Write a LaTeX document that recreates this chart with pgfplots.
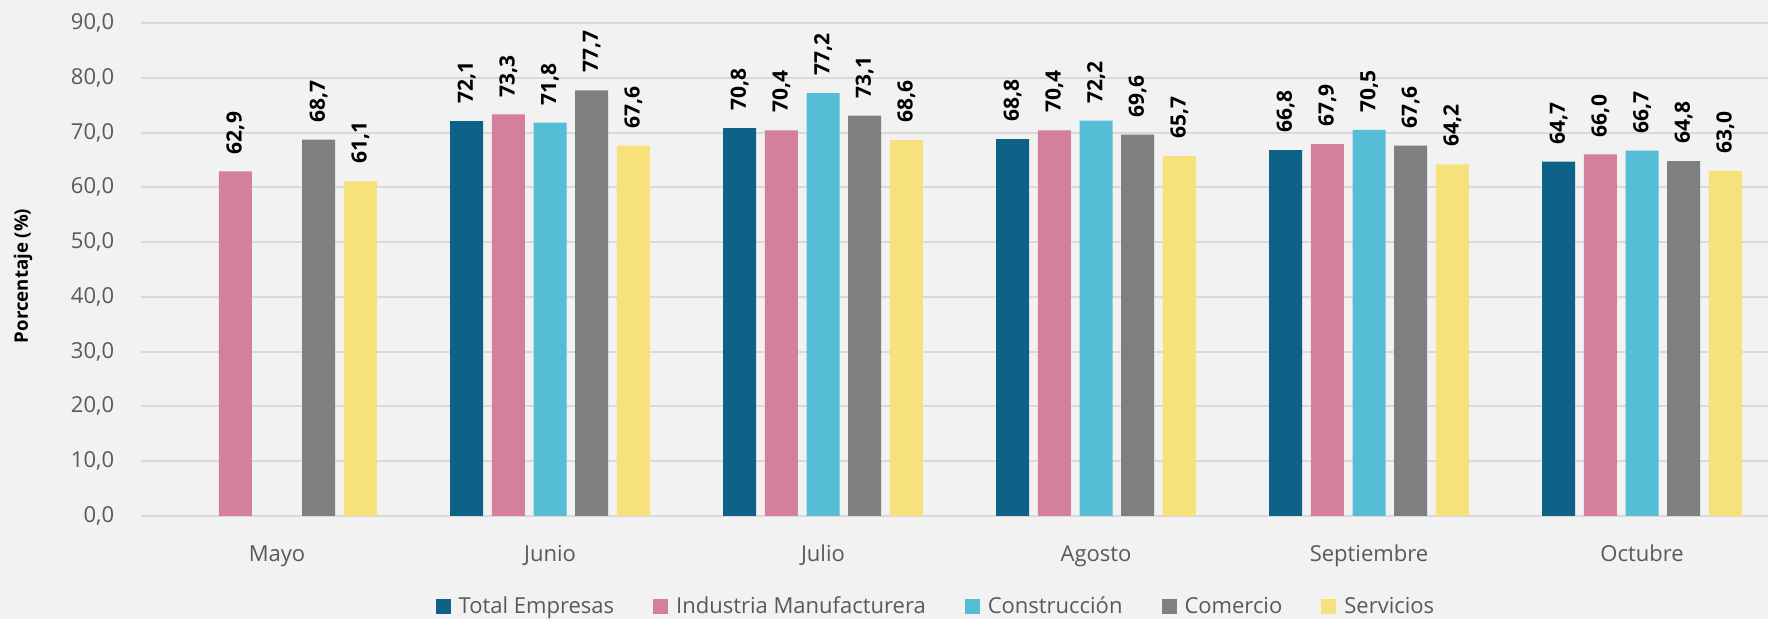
\documentclass[border=0pt]{standalone}
\usepackage{fontspec}
\setmainfont{Open Sans}
\usepackage{pgfplots}
\pgfplotsset{compat=1.18}
\definecolor{bg}{HTML}{F2F2F2}
\definecolor{gridc}{HTML}{D9D9D9}
\definecolor{tickc}{HTML}{595959}
\definecolor{cTot}{HTML}{0E6287}
\definecolor{cInd}{HTML}{D4809A}
\definecolor{cCon}{HTML}{55BED6}
\definecolor{cCom}{HTML}{7F7F7F}
\definecolor{cSer}{HTML}{F7E17A}
\pgfplotsset{
  mybar/.style={fill=#1, draw=none,
    legend image code/.code={\fill[fill=#1] (0pt,-3.75pt) rectangle (7.5pt,3.75pt);}},
}
\begin{document}
\begin{tikzpicture}
\path[use as bounding box, fill=bg] (0,0) rectangle (884pt,309.5pt);
\begin{axis}[
  at={(70.25pt,51.5pt)}, anchor=south west,
  scale only axis, width=813.75pt, height=246.5pt,
  xmin=-0.5, xmax=5.4615, ymin=0, ymax=90,
  clip=false,
  ybar=4.35pt, bar width=16.5pt,
  xtick={0,1,2,3,4,5},
  xticklabels={Mayo,Junio,Julio,Agosto,Septiembre,Octubre},
  ytick={0,10,...,90},
  yticklabel={\pgfmathprintnumber[fixed,fixed zerofill,precision=1,use comma,assume math mode=true]{\tick}},
  ymajorgrids, grid style={draw=gridc, line width=1pt},
  axis line style={draw=none}, major tick length=0pt,
  tick label style={font=\fontsize{11}{13}\selectfont, text=tickc},
  xticklabel style={anchor=base, yshift=-23pt, inner sep=0pt},
  yticklabel style={anchor=east, xshift=-13pt, inner sep=0pt},
  ylabel={Porcentaje (\%)},
  every axis y label/.style={at={(axis description cs:-0.0722,0.487)}, rotate=90, anchor=center,
    font=\bfseries\fontsize{9.3}{11}\selectfont, text=black},
  nodes near coords={\pgfmathprintnumber[fixed,fixed zerofill,precision=1,use comma,assume math mode=true]{\pgfplotspointmeta}},
  nodes near coords style={rotate=90, anchor=west, inner xsep=8.5pt, inner ysep=0pt,
    font=\bfseries\fontsize{10.5}{12}\selectfont, text=black},
  legend columns=5,
  legend style={at={(0.4906,-0.1836)}, anchor=center, draw=none, fill=none, inner sep=0pt,
    font=\fontsize{11}{13}\selectfont, text=tickc,
    nodes={inner xsep=4pt, inner ysep=0pt},
    /tikz/every even column/.append style={column sep=15.5pt}},
]
\addplot[mybar=cTot] coordinates {(1,72.1) (2,70.8) (3,68.8) (4,66.8) (5,64.7)};
\addplot[mybar=cInd] coordinates {(0,62.9) (1,73.3) (2,70.4) (3,70.4) (4,67.9) (5,66.0)};
\addplot[mybar=cCon] coordinates {(1,71.8) (2,77.2) (3,72.2) (4,70.5) (5,66.7)};
\addplot[mybar=cCom] coordinates {(0,68.7) (1,77.7) (2,73.1) (3,69.6) (4,67.6) (5,64.8)};
\addplot[mybar=cSer] coordinates {(0,61.1) (1,67.6) (2,68.6) (3,65.7) (4,64.2) (5,63.0)};
\legend{Total Empresas, Industria Manufacturera, Construcción, Comercio, Servicios}
\end{axis}
\end{tikzpicture}
\end{document}
